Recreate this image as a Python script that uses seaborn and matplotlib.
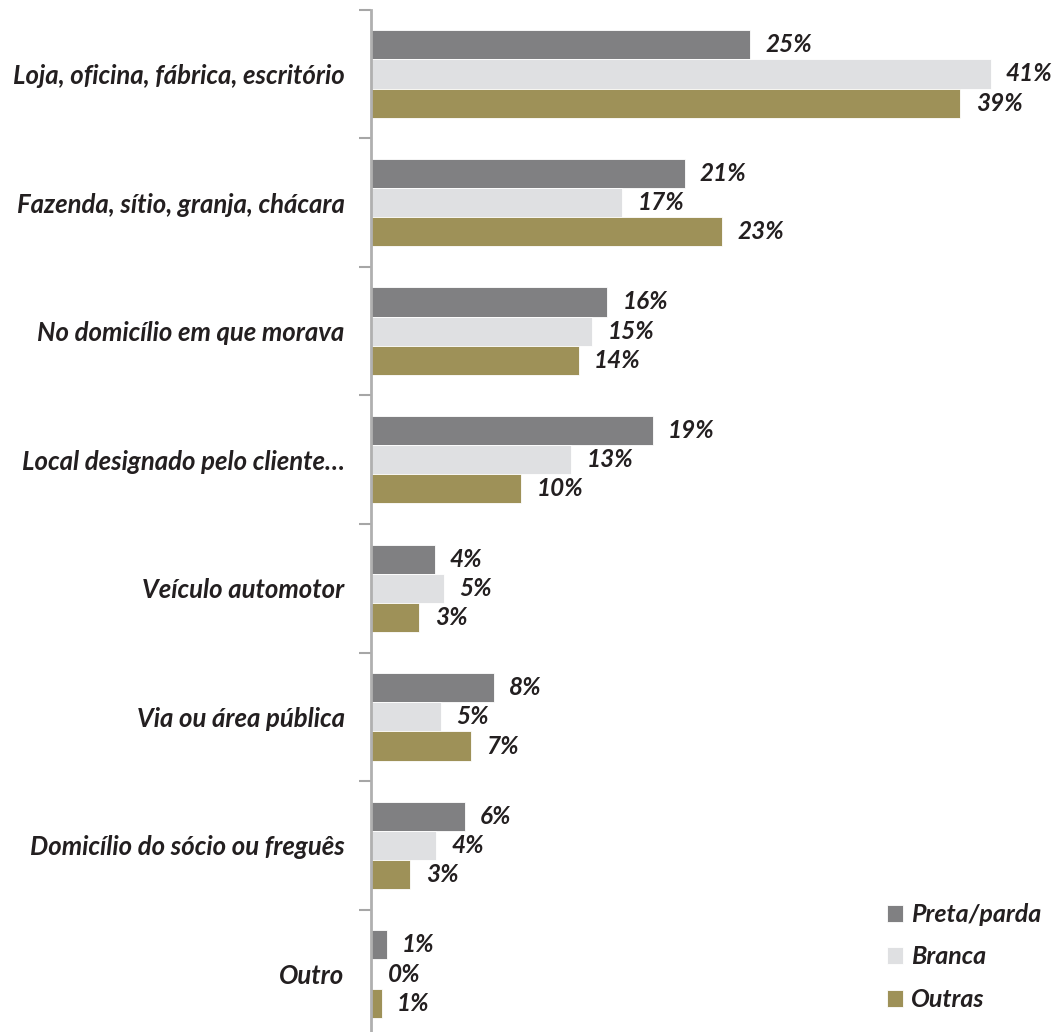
import matplotlib
matplotlib.use("Agg")
import matplotlib.pyplot as plt
import seaborn as sns
import pandas as pd
import numpy as np

categories = [
    "Loja, oficina, fábrica, escritório",
    "Fazenda, sítio, granja, chácara",
    "No domicílio em que morava",
    "Local designado pelo cliente…",
    "Veículo automotor",
    "Via ou área pública",
    "Domicílio do sócio ou freguês",
    "Outro",
]
series = ["Preta/parda", "Branca", "Outras"]
preta = [25.0, 20.7, 15.6, 18.6, 4.2, 8.1, 6.2, 1.05]
branca = [40.9, 16.6, 14.6, 13.2, 4.8, 4.6, 4.3, 0.08]
outras = [38.9, 23.2, 13.7, 9.9, 3.2, 6.6, 2.6, 0.7]
colors = ["#808082", "#dfe0e2", "#9e9158"]

rows = []
for name, vals in zip(series, [preta, branca, outras]):
    for c, v in zip(categories, vals):
        rows.append({"cat": c, "grupo": name, "valor": v})
df = pd.DataFrame(rows)

sns.set_theme(style="white")
plt.rcParams["font.family"] = ["Lato", "DejaVu Sans"]

fig = plt.figure(figsize=(10.55, 10.32), dpi=100)
ax = fig.add_axes([371 / 1055, -6.3 / 1032, 684 / 1055, 1028.6 / 1032])

sns.barplot(data=df, y="cat", x="valor", hue="grupo", order=categories,
            hue_order=series, palette=colors, orient="h", width=0.68,
            saturation=1, ax=ax, legend=True, edgecolor="white", linewidth=0.6)

ax.set_xlim(0, 684 / 15.15)
ax.set_ylim(7.5, -0.5)
ax.set_xlabel("")
ax.set_ylabel("")
ax.set_xticks([])

txtc = "#231f20"
for cont in ax.containers:
    ax.bar_label(cont, labels=[f"{v:.0f}%" for v in cont.datavalues],
                 padding=11, fontsize=17.5, fontweight="bold", fontstyle="italic",
                 color=txtc)

ax.set_yticks(range(len(categories)))
ax.set_yticklabels(categories, fontsize=18.5, fontweight="bold",
                   fontstyle="italic", color=txtc)
ax.tick_params(axis="y", which="major", length=0, pad=19)
ax.set_yticks(np.arange(-0.5, len(categories) + 0.5, 1), minor=True)
ax.tick_params(axis="y", which="minor", length=9, width=1.5, color="#a6a6a6",
               left=True)

for s in ["top", "right", "bottom"]:
    ax.spines[s].set_visible(False)
ax.spines["left"].set_color("#b0b0b0")
ax.spines["left"].set_linewidth(2)

handles, labels = ax.get_legend_handles_labels()
leg = ax.legend(handles, labels, loc="upper left",
                bbox_to_anchor=(887 / 1055, 1 - 903 / 1032),
                bbox_transform=fig.transFigure, frameon=False,
                borderpad=0, borderaxespad=0,
                handlelength=0.65, handleheight=0.65, handletextpad=0.3,
                labelspacing=0.78,
                prop={"family": "Lato", "size": 18, "weight": "bold",
                      "style": "italic"})
for t in leg.get_texts():
    t.set_color(txtc)

fig.savefig("out.png", dpi=100)
